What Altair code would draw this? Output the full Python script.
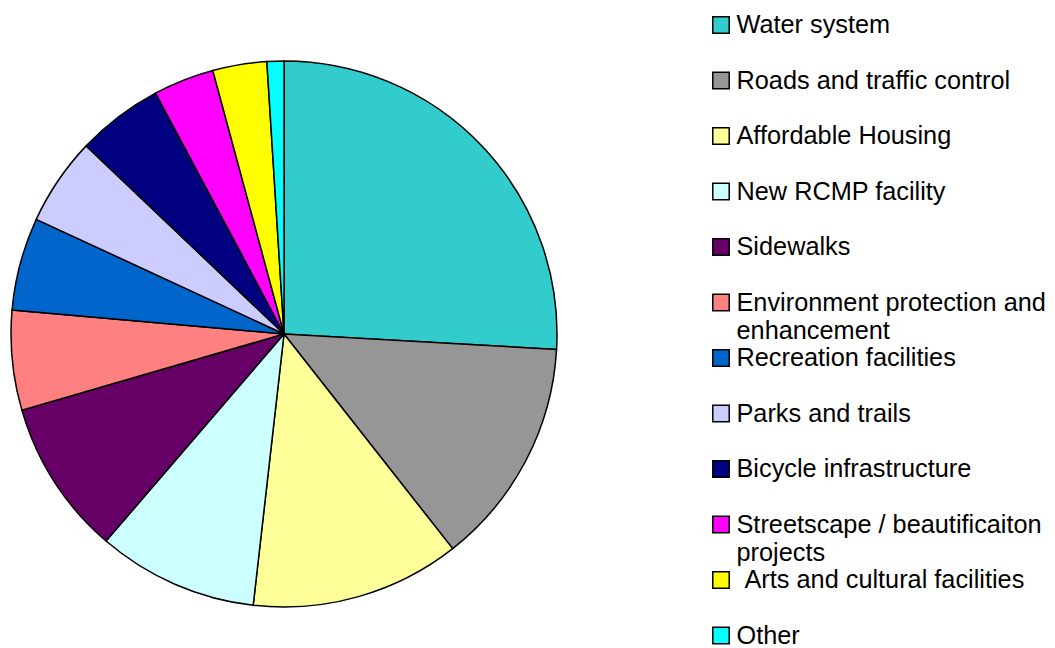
import altair as alt
import pandas as pd

labels = [
    "Water system",
    "Roads and traffic control",
    "Affordable Housing",
    "New RCMP facility",
    "Sidewalks",
    "Environment protection and\nenhancement",
    "Recreation facilities",
    "Parks and trails",
    "Bicycle infrastructure",
    "Streetscape / beautificaiton\nprojects",
    " Arts and cultural facilities",
    "Other",
]
values = [25.9, 13.5, 12.4, 9.5, 9.2, 5.9, 5.5, 5.2, 5.1, 3.6, 3.2, 1.0]
colors = [
    "#33CCCC", "#969696", "#FFFF99", "#CCFFFF", "#660066", "#FF8080",
    "#0066CC", "#CCCCFF", "#000080", "#FF00FF", "#FFFF00", "#00FFFF",
]
# labels that start with a space in the source are rendered with a small indent
indent = [1 if s.startswith(" ") else 0 for s in labels]

df = pd.DataFrame({"label": labels, "value": values,
                   "idx": list(range(len(labels))), "indent": indent})

color_scale = alt.Scale(domain=labels, range=colors)

base = alt.Chart(df)

pie = base.mark_arc(radius=273, stroke="black", strokeWidth=1.5).encode(
    theta=alt.Theta("value:Q", stack=True),
    order=alt.Order("idx:Q"),
    color=alt.Color("label:N", scale=color_scale, legend=None),
    x=alt.value(276),
    y=alt.value(326),
)

yenc = alt.Y("label:N", sort=labels, axis=None,
             scale=alt.Scale(type="point", range=[17, 627.5], padding=0))

squares = base.mark_square(size=270, stroke="black", strokeWidth=1.5, opacity=1).encode(
    x=alt.value(713),
    y=yenc,
    color=alt.Color("label:N", scale=color_scale, legend=None),
)

text_style = dict(align="left", baseline="alphabetic", dy=8, lineBreak="\n",
                  lineHeight=28, font="Liberation Sans", fontSize=25.3, color="black")

texts = base.transform_filter("datum.indent == 0").mark_text(**text_style).encode(
    x=alt.value(728.5),
    y=yenc,
    text="label:N",
)

texts_indented = base.transform_filter("datum.indent == 1").mark_text(
    dx=8, **text_style
).encode(
    x=alt.value(728.5),
    y=yenc,
    text="label:N",
)

chart = alt.layer(pie, squares, texts, texts_indented).properties(
    width=1030, height=632, padding=0
).configure_view(stroke=None)

chart.save("out.html", embed_options={"renderer": "svg", "actions": False})
